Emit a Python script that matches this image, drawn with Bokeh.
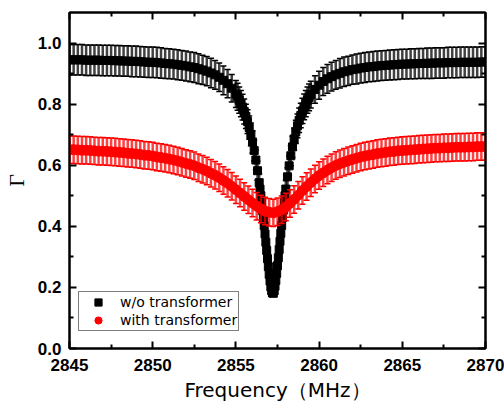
import numpy as np
from bokeh.plotting import figure
from bokeh.models import ColumnDataSource, LinearAxis, FixedTicker, PrintfTickFormatter, Range1d
from bokeh.embed import file_html
from bokeh.resources import INLINE

# ---------------- data ----------------
freq_black = [
    2845.0, 2845.25, 2845.5, 2845.75, 2846.0, 2846.25, 2846.5, 2846.75, 2847.0, 2847.25,
    2847.5, 2847.75, 2848.0, 2848.25, 2848.5, 2848.75, 2849.0, 2849.25, 2849.5, 2849.75,
    2850.0, 2850.25, 2850.5, 2850.75, 2851.0, 2851.25, 2851.5, 2851.75, 2852.0, 2852.25,
    2852.5, 2852.75, 2853.0, 2853.25, 2853.5, 2853.75, 2854.0, 2854.25, 2854.5, 2854.75,
    2855.0,
    2855.1, 2855.2, 2855.3, 2855.4, 2855.5, 2855.6, 2855.7, 2855.8, 2855.9, 2856.0,
    2856.1, 2856.2, 2856.3, 2856.4,
    2856.45, 2856.5, 2856.55, 2856.6, 2856.65, 2856.7, 2856.75, 2856.8, 2856.85, 2856.9,
    2856.95, 2857.0, 2857.05, 2857.1, 2857.15, 2857.2, 2857.25, 2857.3, 2857.35, 2857.4,
    2857.45, 2857.5, 2857.55, 2857.6, 2857.65, 2857.7, 2857.75, 2857.8, 2857.85, 2857.9,
    2857.95, 2858.0,
    2858.1, 2858.2, 2858.3, 2858.4, 2858.5, 2858.6, 2858.7, 2858.8, 2858.9, 2859.0,
    2859.1, 2859.2, 2859.3, 2859.4,
    2859.5, 2859.75, 2860.0, 2860.25, 2860.5, 2860.75, 2861.0, 2861.25, 2861.5, 2861.75,
    2862.0, 2862.25, 2862.5, 2862.75, 2863.0, 2863.25, 2863.5, 2863.75, 2864.0, 2864.25,
    2864.5, 2864.75, 2865.0, 2865.25, 2865.5, 2865.75, 2866.0, 2866.25, 2866.5, 2866.75,
    2867.0, 2867.25, 2867.5, 2867.75, 2868.0, 2868.25, 2868.5, 2868.75, 2869.0, 2869.25,
    2869.5, 2869.75, 2870.0,
]
gamma_black = [
    0.945, 0.945, 0.945, 0.945, 0.944, 0.944, 0.944, 0.944, 0.943, 0.943,
    0.943, 0.942, 0.942, 0.941, 0.941, 0.940, 0.940, 0.939, 0.938, 0.937,
    0.937, 0.936, 0.935, 0.933, 0.932, 0.931, 0.929, 0.927, 0.925, 0.922,
    0.920, 0.916, 0.912, 0.908, 0.902, 0.896, 0.888, 0.878, 0.867, 0.852,
    0.833,
    0.824, 0.813, 0.802, 0.790, 0.776, 0.760, 0.743, 0.723, 0.701, 0.676,
    0.648, 0.617, 0.582, 0.543,
    0.522, 0.500, 0.477, 0.452, 0.427, 0.402, 0.375, 0.348, 0.321, 0.294,
    0.268, 0.243, 0.221, 0.202, 0.189, 0.182, 0.181, 0.189, 0.204, 0.223,
    0.246, 0.271, 0.297, 0.324, 0.351, 0.377, 0.403, 0.429, 0.453, 0.477,
    0.500, 0.522,
    0.562, 0.598, 0.631, 0.660, 0.686, 0.709, 0.729, 0.747, 0.763, 0.778,
    0.791, 0.802, 0.813, 0.822,
    0.831, 0.848, 0.862, 0.874, 0.883, 0.890, 0.896, 0.901, 0.906, 0.909,
    0.913, 0.915, 0.918, 0.920, 0.922, 0.923, 0.925, 0.926, 0.927, 0.928,
    0.929, 0.930, 0.931, 0.931, 0.932, 0.932, 0.933, 0.933, 0.934, 0.934,
    0.935, 0.935, 0.935, 0.936, 0.936, 0.936, 0.937, 0.937, 0.937, 0.937,
    0.937, 0.938, 0.938,
]
err_black = [
    0.050, 0.050, 0.050, 0.050, 0.050, 0.050, 0.050, 0.050, 0.050, 0.050,
    0.050, 0.050, 0.050, 0.050, 0.050, 0.050, 0.050, 0.050, 0.050, 0.050,
    0.050, 0.050, 0.050, 0.049, 0.049, 0.049, 0.049, 0.049, 0.049, 0.049,
    0.049, 0.049, 0.048, 0.048, 0.048, 0.047, 0.047, 0.047, 0.046, 0.045,
    0.044,
    0.044, 0.043, 0.043, 0.042, 0.041, 0.040, 0.039, 0.038, 0.037, 0.036,
    0.034, 0.033, 0.031, 0.029,
    0.028, 0.027, 0.025, 0.024, 0.023, 0.021, 0.020, 0.018, 0.017, 0.016,
    0.014, 0.013, 0.012, 0.011, 0.010, 0.010, 0.010, 0.010, 0.011, 0.012,
    0.013, 0.014, 0.016, 0.017, 0.019, 0.020, 0.021, 0.023, 0.024, 0.025,
    0.027, 0.028,
    0.030, 0.032, 0.033, 0.035, 0.036, 0.038, 0.039, 0.040, 0.040, 0.041,
    0.042, 0.043, 0.043, 0.044,
    0.044, 0.045, 0.046, 0.046, 0.047, 0.047, 0.047, 0.048, 0.048, 0.048,
    0.048, 0.049, 0.049, 0.049, 0.049, 0.049, 0.049, 0.049, 0.049, 0.049,
    0.049, 0.049, 0.049, 0.049, 0.049, 0.049, 0.049, 0.049, 0.050, 0.050,
    0.050, 0.050, 0.050, 0.050, 0.050, 0.050, 0.050, 0.050, 0.050, 0.050,
    0.050, 0.050, 0.050,
]
freq_red = [
    2845.0, 2845.25, 2845.5, 2845.75, 2846.0, 2846.25, 2846.5, 2846.75, 2847.0, 2847.25,
    2847.5, 2847.75, 2848.0, 2848.25, 2848.5, 2848.75, 2849.0, 2849.25, 2849.5, 2849.75,
    2850.0, 2850.25, 2850.5, 2850.75, 2851.0, 2851.25, 2851.5, 2851.75, 2852.0, 2852.25,
    2852.5, 2852.75, 2853.0, 2853.25, 2853.5, 2853.75, 2854.0, 2854.25, 2854.5, 2854.75,
    2855.0, 2855.25, 2855.5, 2855.75, 2856.0, 2856.25, 2856.5, 2856.75, 2857.0, 2857.25,
    2857.5, 2857.75, 2858.0, 2858.25, 2858.5, 2858.75, 2859.0, 2859.25, 2859.5, 2859.75,
    2860.0, 2860.25, 2860.5, 2860.75, 2861.0, 2861.25, 2861.5, 2861.75, 2862.0, 2862.25,
    2862.5, 2862.75, 2863.0, 2863.25, 2863.5, 2863.75, 2864.0, 2864.25, 2864.5, 2864.75,
    2865.0, 2865.25, 2865.5, 2865.75, 2866.0, 2866.25, 2866.5, 2866.75, 2867.0, 2867.25,
    2867.5, 2867.75, 2868.0, 2868.25, 2868.5, 2868.75, 2869.0, 2869.25, 2869.5, 2869.75,
    2870.0,
]
gamma_red = [
    0.651, 0.651, 0.650, 0.649, 0.649, 0.648, 0.647, 0.646, 0.646, 0.645,
    0.644, 0.643, 0.642, 0.641, 0.639, 0.638, 0.637, 0.635, 0.633, 0.632,
    0.630, 0.627, 0.625, 0.623, 0.620, 0.617, 0.614, 0.610, 0.606, 0.602,
    0.598, 0.592, 0.587, 0.581, 0.574, 0.567, 0.559, 0.550, 0.541, 0.531,
    0.520, 0.509, 0.498, 0.487, 0.476, 0.466, 0.457, 0.450, 0.446, 0.444,
    0.448, 0.454, 0.463, 0.475, 0.488, 0.502, 0.517, 0.530, 0.543, 0.555,
    0.566, 0.575, 0.584, 0.592, 0.599, 0.605, 0.610, 0.615, 0.619, 0.623,
    0.627, 0.630, 0.633, 0.635, 0.638, 0.640, 0.642, 0.644, 0.645, 0.647,
    0.648, 0.649, 0.650, 0.651, 0.652, 0.653, 0.654, 0.655, 0.656, 0.656,
    0.657, 0.657, 0.658, 0.659, 0.659, 0.659, 0.660, 0.660, 0.661, 0.661,
    0.661,
]
err_red = 0.045

x_ticks = [2845, 2850, 2855, 2860, 2865, 2870]
x_minor = [2847.5, 2852.5, 2857.5, 2862.5, 2867.5]
y_ticks = [0.0, 0.2, 0.4, 0.6, 0.8, 1.0]
y_minor = [0.1, 0.3, 0.5, 0.7, 0.9]
label_black = "w/o transformer"
label_red = "with transformer"

# ---------------- sources ----------------
xb = np.array(freq_black); yb = np.array(gamma_black); eb = np.array(err_black)
xr = np.array(freq_red); yr = np.array(gamma_red)
src_b = ColumnDataSource(dict(x=xb, y=yb, lo=yb - eb, hi=yb + eb))
src_r = ColumnDataSource(dict(x=xr, y=yr, lo=yr - err_red, hi=yr + err_red))

p = figure(width=504, height=408, x_range=Range1d(2845, 2870), y_range=Range1d(0, 1.1),
           output_backend="svg", toolbar_location=None,
           min_border_left=66, min_border_right=19, min_border_top=12, min_border_bottom=60,
           x_axis_label="Frequency（MHz）", y_axis_label="Γ")
p.grid.visible = False
p.outline_line_color = "black"
p.outline_line_width = 2
p.background_fill_color = "white"
p.border_fill_color = "white"

# black series
p.segment(x0="x", y0="lo", x1="x", y1="hi", source=src_b, line_color="black", line_width=2.5,
          line_alpha=0.75)
p.scatter(x="x", y="lo", source=src_b, marker="dash", size=6, line_color="black", line_width=1.5)
p.scatter(x="x", y="hi", source=src_b, marker="dash", size=6, line_color="black", line_width=1.5)
p.scatter(x="x", y="y", source=src_b, marker="square", size=8, fill_color="black",
          line_color="black", legend_label=label_black)

# red series
p.segment(x0="x", y0="lo", x1="x", y1="hi", source=src_r, line_color="#ff0000", line_width=2.5,
          line_alpha=0.75)
p.scatter(x="x", y="lo", source=src_r, marker="dash", size=6, line_color="#ff0000", line_width=1.5)
p.scatter(x="x", y="hi", source=src_r, marker="dash", size=6, line_color="#ff0000", line_width=1.5)
p.scatter(x="x", y="y", source=src_r, marker="circle", size=10, fill_color="#ff0000",
          line_color="#ff0000", legend_label=label_red)

def style_axis(ax, ticks, minor, show_labels):
    ax.ticker = FixedTicker(ticks=ticks, minor_ticks=minor)
    ax.axis_line_width = 2
    ax.axis_line_color = "black"
    ax.major_tick_in = 7
    ax.major_tick_out = 0
    ax.minor_tick_in = 4
    ax.minor_tick_out = 0
    ax.major_tick_line_width = 2
    ax.minor_tick_line_width = 2
    ax.major_tick_line_color = "black"
    ax.minor_tick_line_color = "black"
    if show_labels:
        ax.major_label_text_font = "Liberation Sans"
        ax.major_label_text_font_style = "bold"
        ax.major_label_text_font_size = "17px"
        ax.major_label_text_color = "black"
    else:
        ax.major_label_overrides = {t: "" for t in ticks}
        ax.major_label_text_color = None
        ax.major_label_text_font_size = "1px"
        ax.major_label_standoff = 0

xa = p.xaxis[0]
style_axis(xa, x_ticks, x_minor, True)
xa.major_label_standoff = 10
xa.axis_label_text_font = "DejaVu Sans"
xa.axis_label_text_font_style = "normal"
xa.axis_label_text_font_size = "20px"
xa.axis_label_text_color = "black"
xa.axis_label_standoff = 4

ya = p.yaxis[0]
style_axis(ya, y_ticks, y_minor, True)
ya.formatter = PrintfTickFormatter(format="%.1f")
ya.major_label_standoff = 8
ya.axis_label_text_font = "Liberation Serif"
ya.axis_label_text_font_style = "normal"
ya.axis_label_text_font_size = "22px"
ya.axis_label_text_color = "black"
ya.axis_label_standoff = 6

top = LinearAxis()
style_axis(top, x_ticks, x_minor, False)
p.add_layout(top, "above")
right = LinearAxis()
style_axis(right, y_ticks, y_minor, False)
p.add_layout(right, "right")

lg = p.legend[0]
lg.location = (9, 17)
lg.margin = 0
lg.padding = 1
lg.spacing = 0
lg.glyph_width = 36
lg.glyph_height = 18
lg.label_height = 18
lg.label_standoff = 4
lg.label_text_font = "DejaVu Sans"
lg.label_text_font_size = "14px"
lg.label_text_color = "black"
lg.border_line_color = "black"
lg.border_line_width = 1
lg.background_fill_color = "white"
lg.background_fill_alpha = 1

open("out.html", "w").write(file_html(p, INLINE))
